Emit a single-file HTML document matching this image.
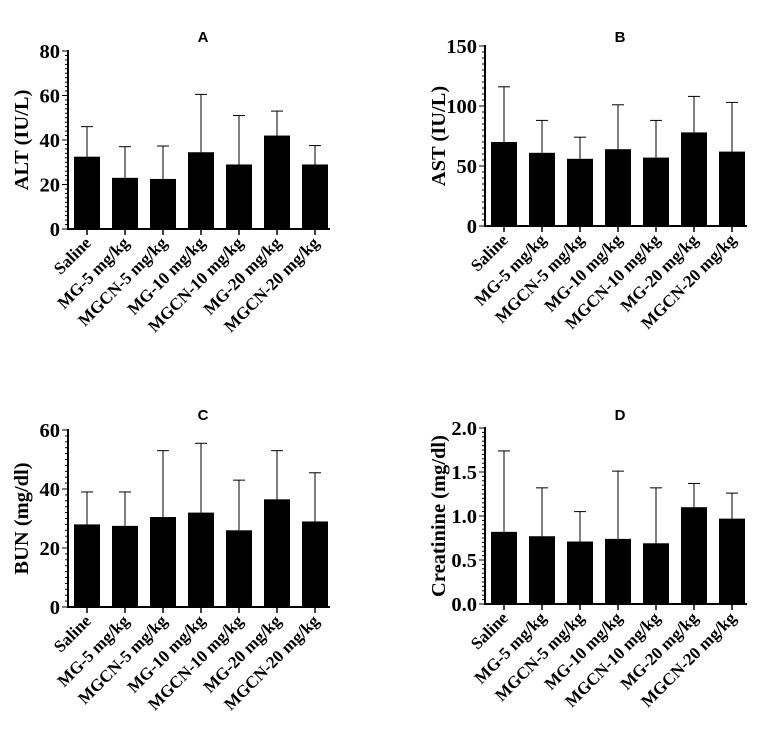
<!DOCTYPE html>
<html><head><meta charset="utf-8"><style>
body{margin:0;background:#fff;width:764px;height:731px;overflow:hidden}
svg{font-family:"Liberation Serif",serif}
</style></head><body>
<svg id="c" width="764" height="731"></svg>
<script>
const categories=["Saline","MG-5 mg/kg","MGCN-5 mg/kg","MG-10 mg/kg","MGCN-10 mg/kg","MG-20 mg/kg","MGCN-20 mg/kg"];
const altMeans=[32.5,23,22.5,34.5,29,42,29];
const altTops=[46,37,37.3,60.5,51,53,37.5];
const astMeans=[70,61,56,64,57,78,62];
const astTops=[116,88,74,101,88,108,103];
const bunMeans=[28,27.5,30.5,32,26,36.5,29];
const bunTops=[39,39,53,55.5,43,53,45.5];
const creMeans=[0.82,0.77,0.71,0.74,0.69,1.10,0.97];
const creTops=[1.74,1.32,1.05,1.51,1.32,1.37,1.26];
const altTicks=[0,20,40,60,80];
const astTicks=[0,50,100,150];
const bunTicks=[0,20,40,60];
const creTicks=["0.0","0.5","1.0","1.5","2.0"];
const NS="http://www.w3.org/2000/svg";
const svg=document.getElementById('c');
function mk(t,a,p){const e=document.createElementNS(NS,t);for(const k in a)e.setAttribute(k,a[k]);(p||svg).appendChild(e);return e;}
function panel(o){
  const g=mk('g',{});
  
  
  const ax=o.ax,y0=o.y0,y1=o.y1,max=o.max;
  const ys=v=>y0-(v/max)*(y0-y1);
  const xs=i=>ax+19+i*38;
  const t=mk('text',{x:o.tx,y:o.ty,'text-anchor':'middle','font-family':'Liberation Sans, sans-serif','font-weight':'bold','font-size':15},g);t.textContent=o.letter;
  
  const yl=mk('text',{transform:`translate(${ax-40},${(y0+y1)/2}) rotate(-90)`,'text-anchor':'middle','font-weight':'bold','font-size':20.5},g);yl.textContent=o.ylabel;
  
  o.means.forEach((m,i)=>{
    const x=xs(i);
    const el=mk('line',{x1:x,x2:x,y1:ys(o.tops[i]),y2:ys(m),stroke:'#000','stroke-width':1},g);
    
    const cap=mk('line',{x1:x-6,x2:x+6,y1:ys(o.tops[i]),y2:ys(o.tops[i]),stroke:'#000','stroke-width':1},g);
    
    const b=mk('rect',{x:x-13,y:ys(m),width:26,height:y0-ys(m),fill:'#000'},g);
    
    mk('line',{x1:x,x2:x,y1:y0,y2:y0+6,stroke:'#000','stroke-width':1.5},g);
    const lb=mk('text',{transform:`translate(${x+5},${y0+15}) rotate(-45)`,'text-anchor':'end','font-weight':'bold','font-size':17},g);lb.textContent=categories[i];
    
  });
  mk('line',{x1:ax,x2:ax,y1:y1-1,y2:y0+1,stroke:'#000','stroke-width':2},g);
  mk('line',{x1:ax,x2:ax+262,y1:y0,y2:y0,stroke:'#000','stroke-width':2},g);
  const n=o.ticks.length-1, minor=o.minor;
  for(let k=0;k<=n*minor;k++){const y=y0-(y0-y1)*k/(n*minor);mk('line',{x1:ax-(k%minor?3:6),x2:ax,y1:y,y2:y,stroke:'#000','stroke-width':1},g);}
  o.ticks.forEach((tv,k)=>{const y=y0-(y0-y1)*k/n;const tt=mk('text',{x:ax-8,y:y+7,'text-anchor':'end','font-weight':'bold','font-size':20.5},g);tt.textContent=tv;
    });
}
panel({id:'panel-a-alt',letter:'A',tx:203,ty:42,ax:68,y0:229,y1:51,max:80,means:altMeans,tops:altTops,ticks:altTicks,minor:10,ylabel:'ALT (IU/L)'});
panel({id:'panel-b-ast',letter:'B',tx:620,ty:42,ax:485,y0:226,y1:46,max:150,means:astMeans,tops:astTops,ticks:astTicks,minor:10,ylabel:'AST (IU/L)'});
panel({id:'panel-c-bun',letter:'C',tx:203,ty:420,ax:68,y0:607,y1:430,max:60,means:bunMeans,tops:bunTops,ticks:bunTicks,minor:10,ylabel:'BUN (mg/dl)'});
panel({id:'panel-d-creatinine',letter:'D',tx:620,ty:420,ax:485,y0:604,y1:428,max:2,means:creMeans,tops:creTops,ticks:creTicks,minor:10,ylabel:'Creatinine (mg/dl)'});
</script>
</body></html>
